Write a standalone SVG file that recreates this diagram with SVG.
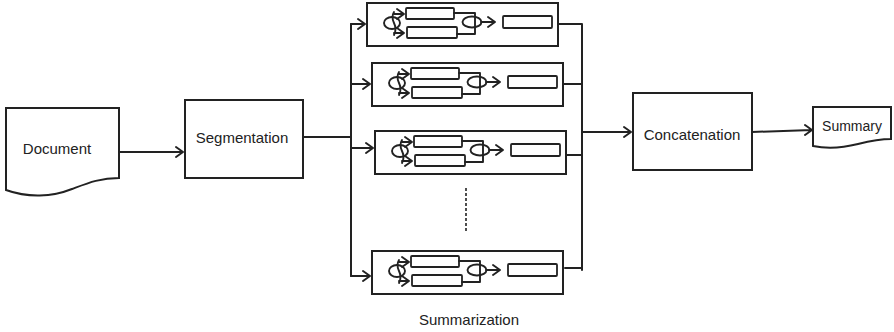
<svg xmlns="http://www.w3.org/2000/svg" xmlns:xlink="http://www.w3.org/1999/xlink" width="894" height="332" viewBox="0 0 894 332">
<style>
  .box { fill: #ffffff; stroke: #222222; stroke-width: 2; }
  .inner { fill: #ffffff; stroke: #222222; stroke-width: 1.8; }
  .ln { fill: none; stroke: #222222; stroke-width: 2; stroke-linejoin: round; stroke-linecap: round; }
  .thin { fill: none; stroke: #222222; stroke-width: 1.9; stroke-linejoin: round; stroke-linecap: round; }
  .lbl { font-family: "Liberation Sans", Arial, sans-serif; font-size: 15px; fill: #222222; text-anchor: middle; }
</style>
<defs>
  <g id="module">
    <rect class="box" x="0" y="0" width="191" height="43"/>
    <rect class="inner" x="39" y="5" width="48" height="11" rx="1"/>
    <rect class="inner" x="40" y="24" width="50" height="11" rx="1"/>
    <rect class="inner" x="136" y="13" width="49" height="12" rx="1"/>
    <!-- split symbol -->
    <ellipse class="thin" cx="25" cy="20" rx="8" ry="6"/>
    <path class="thin" d="M27,9 Q24,14 27,20 Q30,26 27,32"/>
    <path class="thin" d="M27,11 H36 M27,30 H36"/>
    <path class="thin" d="M30,6 L37,11 L30,16 M30,25 L37,30 L30,35"/>
    <!-- merge symbol -->
    <path class="thin" d="M87,10 H108 V31 H90"/>
    <ellipse class="thin" cx="105" cy="19" rx="9.5" ry="5.5"/>
    <path class="thin" d="M114,19 H128 M121,14 L128,19 L121,24"/>
  </g>
</defs>

<g id="document">
  <path class="box" d="M6,108 H119 V178 C100,178 88,183 72,189 C52,197 28,198 6,190 Z"/>
  <text class="lbl" x="57" y="154">Document</text>
</g>

<g id="segmentation">
  <rect class="box" x="185" y="100" width="118" height="78"/>
  <text class="lbl" x="242" y="143">Segmentation</text>
</g>

<g id="summarizer1"><use xlink:href="#module" transform="translate(367,3)"/></g>
<g id="summarizer2"><use xlink:href="#module" transform="translate(372,63)"/></g>
<g id="summarizer3"><use xlink:href="#module" transform="translate(375,131)"/></g>
<g id="summarizer4"><use xlink:href="#module" transform="translate(372,251)"/></g>

<g id="ellipsis">
  <line x1="466" y1="188" x2="466" y2="232" stroke="#222222" stroke-width="1.6" stroke-dasharray="3 2"/>
</g>

<g id="concatenation">
  <rect class="box" x="633" y="93" width="119" height="77"/>
  <text class="lbl" x="692" y="140">Concatenation</text>
</g>

<g id="summary">
  <path class="box" d="M813,107 H891 V139 C878,139 870,141 858,144 C842,148 828,149 813,146 Z"/>
  <text class="lbl" x="852" y="131" style="font-size:14px">Summary</text>
</g>

<g id="summarization-label">
  <text class="lbl" x="469" y="325">Summarization</text>
</g>

<g id="connectors">
  <!-- Document to Segmentation -->
  <path class="ln" d="M119,152 H183 M176,147 L183,152 L176,157"/>
  <!-- Segmentation to left bus -->
  <path class="ln" d="M303,137 H351"/>
  <path class="ln" d="M351,24 V276"/>
  <!-- bus to modules -->
  <path class="ln" d="M351,24 H365 M358,19 L365,24 L358,29"/>
  <path class="ln" d="M351,84 H370 M363,79 L370,84 L363,89"/>
  <path class="ln" d="M351,148 H373 M366,143 L373,148 L366,153"/>
  <path class="ln" d="M351,276 H370 M363,271 L370,276 L363,281"/>
  <!-- modules to right bus -->
  <path class="ln" d="M558,24 H582 V270"/>
  <path class="ln" d="M563,84 H582"/>
  <path class="ln" d="M566,155 H582"/>
  <path class="ln" d="M565,268 H582"/>
  <!-- right bus to Concatenation -->
  <path class="ln" d="M582,132 H631 M624,127 L631,132 L624,137"/>
  <!-- Concatenation to Summary -->
  <path class="ln" d="M752,132 L812,130 M805,125 L812,130 L805,135"/>
</g>
</svg>
